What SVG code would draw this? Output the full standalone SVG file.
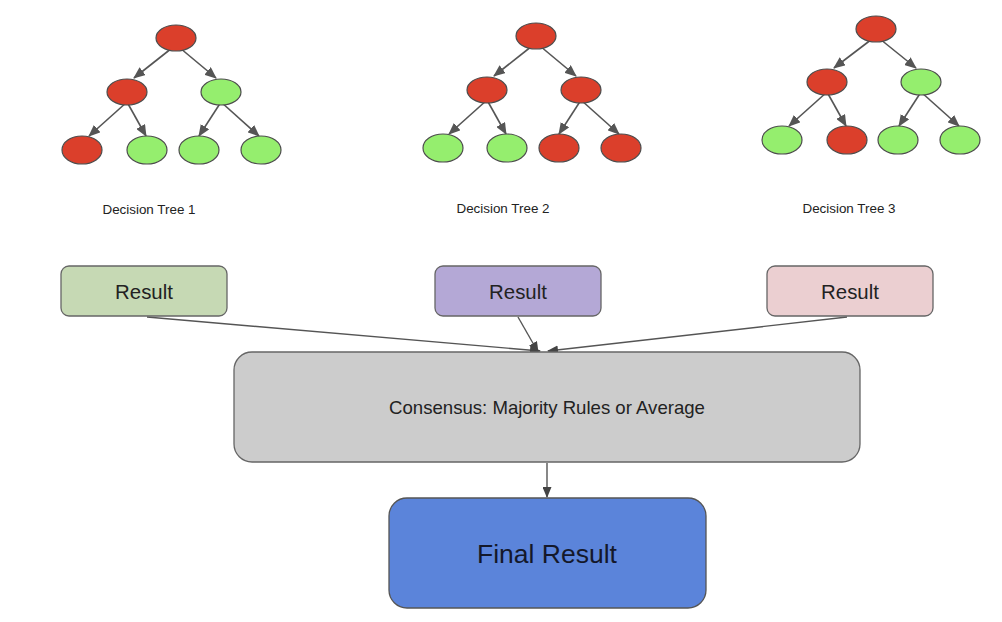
<svg xmlns="http://www.w3.org/2000/svg" width="1002" height="622" viewBox="0 0 1002 622">
<style>
.red{fill:#db3f2b;stroke:#4d4d4d;stroke-width:1.2}
.grn{fill:#95ee6e;stroke:#4d4d4d;stroke-width:1.2}
.ta{stroke:#555;stroke-width:1.6;fill:none;marker-end:url(#ah)}
.ca{stroke:#555;stroke-width:1.4;fill:none;marker-end:url(#ah2)}
.lbl{font-family:"Liberation Sans",Arial,sans-serif;font-size:13.4px;fill:#222;text-anchor:middle}
.res{stroke:#666;stroke-width:1.3}
.rt{font-family:"Liberation Sans",Arial,sans-serif;font-size:20.4px;fill:#222;text-anchor:middle}
</style>
<defs>
<marker id="ah" markerUnits="userSpaceOnUse" markerWidth="12" markerHeight="10" refX="11" refY="5" orient="auto"><path d="M0,0 L12,5 L0,10 z" fill="#555"/></marker>
<marker id="ah2" markerUnits="userSpaceOnUse" markerWidth="11" markerHeight="9" refX="10" refY="4.5" orient="auto"><path d="M0,0 L11,4.5 L0,9 z" fill="#444"/></marker>
</defs>
<rect width="1002" height="622" fill="#fff"/>

<g id="tree1" transform="translate(176,38)">
<g id="tree1-edges">
<path class="ta" d="M-4,10 L-42,40"/><path class="ta" d="M4,10 L40,40"/>
<path class="ta" d="M-49,64 L-87,98"/><path class="ta" d="M-49,64 L-30,98"/>
<path class="ta" d="M45,64 L23,98"/><path class="ta" d="M45,64 L83,98"/>
</g>
<g id="t1-root"><ellipse class="red" cx="0" cy="0" rx="20" ry="13"/></g>
<g id="t1-l"><ellipse class="red" cx="-49" cy="54" rx="20" ry="13"/></g>
<g id="t1-r"><ellipse class="grn" cx="45" cy="54" rx="20" ry="13"/></g>
<g id="t1-ll"><ellipse class="red" cx="-94" cy="112" rx="20" ry="14"/></g>
<g id="t1-lr"><ellipse class="grn" cx="-29" cy="112" rx="20" ry="14"/></g>
<g id="t1-rl"><ellipse class="grn" cx="23" cy="112" rx="20" ry="14"/></g>
<g id="t1-rr"><ellipse class="grn" cx="85" cy="112" rx="20" ry="14"/></g>
</g>

<g id="tree2" transform="translate(536,36)">
<g id="tree2-edges">
<path class="ta" d="M-4,10 L-42,40"/><path class="ta" d="M4,10 L40,40"/>
<path class="ta" d="M-49,64 L-87,98"/><path class="ta" d="M-49,64 L-30,98"/>
<path class="ta" d="M45,64 L23,98"/><path class="ta" d="M45,64 L83,98"/>
</g>
<g id="t2-root"><ellipse class="red" cx="0" cy="0" rx="20" ry="13"/></g>
<g id="t2-l"><ellipse class="red" cx="-49" cy="54" rx="20" ry="13"/></g>
<g id="t2-r"><ellipse class="red" cx="45" cy="54" rx="20" ry="13"/></g>
<g id="t2-ll"><ellipse class="grn" cx="-93" cy="112" rx="20" ry="14"/></g>
<g id="t2-lr"><ellipse class="grn" cx="-29" cy="112" rx="20" ry="14"/></g>
<g id="t2-rl"><ellipse class="red" cx="23" cy="112" rx="20" ry="14"/></g>
<g id="t2-rr"><ellipse class="red" cx="85" cy="112" rx="20" ry="14"/></g>
</g>

<g id="tree3" transform="translate(876,29)">
<g id="tree3-edges">
<path class="ta" d="M-4,10 L-42,39"/><path class="ta" d="M4,10 L40,39"/>
<path class="ta" d="M-49,63 L-87,97"/><path class="ta" d="M-49,63 L-30,97"/>
<path class="ta" d="M45,63 L23,97"/><path class="ta" d="M45,63 L83,97"/>
</g>
<g id="t3-root"><ellipse class="red" cx="0" cy="0" rx="20" ry="13"/></g>
<g id="t3-l"><ellipse class="red" cx="-49" cy="53" rx="20" ry="13"/></g>
<g id="t3-r"><ellipse class="grn" cx="45" cy="53" rx="20" ry="13"/></g>
<g id="t3-ll"><ellipse class="grn" cx="-94" cy="111" rx="20" ry="14"/></g>
<g id="t3-lr"><ellipse class="red" cx="-29" cy="111" rx="20" ry="14"/></g>
<g id="t3-rl"><ellipse class="grn" cx="22" cy="111" rx="20" ry="14"/></g>
<g id="t3-rr"><ellipse class="grn" cx="84" cy="111" rx="20" ry="14"/></g>
</g>

<g id="labels">
<text class="lbl" x="149" y="214">Decision Tree 1</text>
<text class="lbl" x="503" y="213">Decision Tree 2</text>
<text class="lbl" x="849" y="213">Decision Tree 3</text>
</g>

<g id="connectors">
<path class="ca" d="M147,317 L540,351"/>
<path class="ca" d="M518,317 L538,352"/>
<path class="ca" d="M847,317 L548,351"/>
<path class="ca" d="M547,463 L547,497"/>
</g>

<g id="result1"><rect class="res" x="61" y="266" width="166" height="50" rx="8" fill="#c6d9b4"/><text class="rt" x="144" y="299">Result</text></g>
<g id="result2"><rect class="res" x="435" y="266" width="166" height="50" rx="8" fill="#b4a8d6"/><text class="rt" x="518" y="299">Result</text></g>
<g id="result3"><rect class="res" x="767" y="266" width="166" height="50" rx="8" fill="#ebcfd1"/><text class="rt" x="850" y="299">Result</text></g>

<g id="consensus"><rect x="234" y="352" width="626" height="110" rx="18" fill="#cccccc" stroke="#666" stroke-width="1.3"/><text x="547" y="414" font-family="Liberation Sans, Arial, sans-serif" font-size="18.6" fill="#222" text-anchor="middle">Consensus: Majority Rules or Average</text></g>

<g id="final"><rect x="389" y="498" width="317" height="110" rx="18" fill="#5b84da" stroke="#555" stroke-width="1.3"/><text x="547" y="563" font-family="Liberation Sans, Arial, sans-serif" font-size="26.5" fill="#14182a" text-anchor="middle">Final Result</text></g>
</svg>
